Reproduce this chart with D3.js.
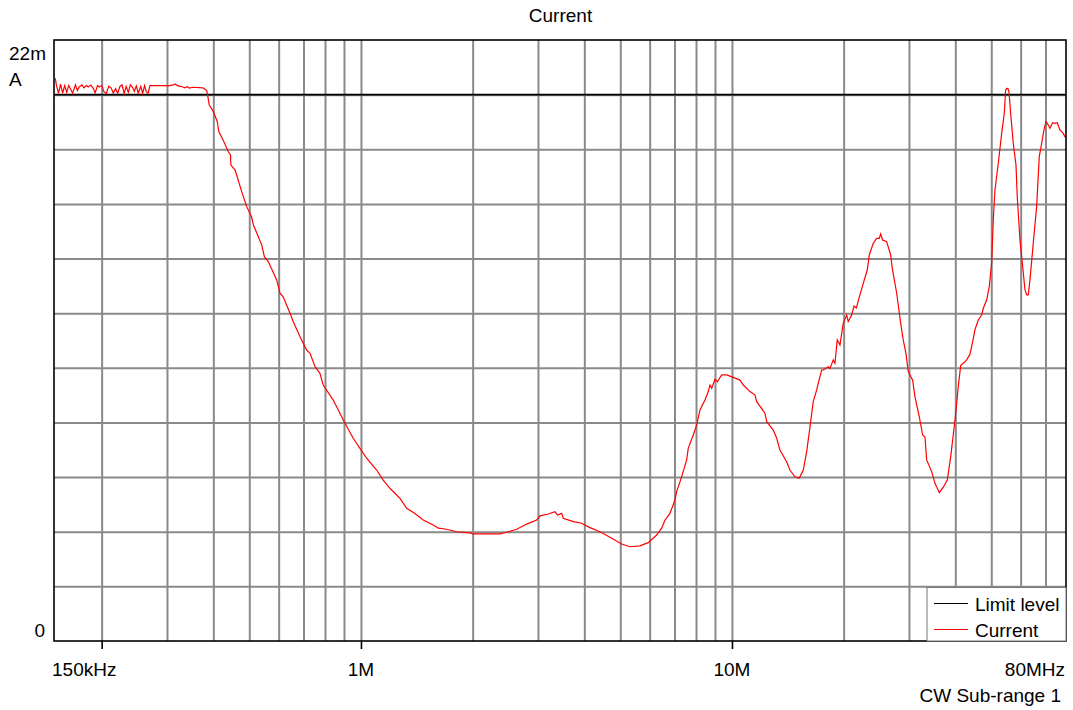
<!DOCTYPE html>
<html>
<head>
<meta charset="UTF-8">
<title>Current</title>
<script src="https://d3js.org/d3.v7.min.js"></script>
<style>
  body { margin: 0; background: #fff; }
  svg text { font-family: "Liberation Sans", Arial, sans-serif; font-size: 19px; fill: #000; }
</style>
</head>
<body>
<svg id="chart"></svg>
<script>
// frequency in MHz, current in mA
const freqMHz = [
  0.150, 0.151, 0.153, 0.155, 0.157, 0.159, 0.161, 0.163, 0.165, 0.167,
  0.170, 0.172, 0.174, 0.177, 0.179, 0.182, 0.184, 0.187, 0.190, 0.192,
  0.195, 0.197, 0.200, 0.203, 0.206, 0.209, 0.212, 0.215, 0.218, 0.221,
  0.224, 0.227, 0.230, 0.233, 0.236, 0.239, 0.242, 0.245, 0.248, 0.251,
  0.255, 0.258, 0.261, 0.264, 0.267, 0.270, 0.275, 0.290, 0.305, 0.312,
  0.316, 0.320, 0.325, 0.330, 0.335, 0.340, 0.345, 0.352, 0.375, 0.380,
  0.384, 0.386, 0.390, 0.400, 0.410, 0.414, 0.425, 0.439, 0.445, 0.446,
  0.458, 0.477, 0.492, 0.507, 0.513, 0.540, 0.549, 0.563, 0.593, 0.605,
  0.617, 0.644, 0.657, 0.685, 0.714, 0.729, 0.752, 0.775, 0.791, 0.842,
  0.896, 0.953, 0.994, 1.036, 1.102, 1.148, 1.197, 1.274, 1.328, 1.398,
  1.472, 1.566, 1.616, 1.702, 1.811, 1.967, 2.008, 2.370, 2.470, 2.629,
  2.797, 2.975, 3.038, 3.198, 3.334, 3.390, 3.475, 3.510, 3.735, 3.935,
  4.143, 4.409, 4.691, 5.043, 5.310, 5.649, 5.948, 6.266, 6.464, 6.597,
  6.805, 7.021, 7.096, 7.317, 7.549, 7.623, 7.865, 8.034, 8.199, 8.458,
  8.634, 8.725, 8.82, 9.00, 9.13, 9.38, 9.676, 10.08, 10.51, 10.73,
  11.18, 11.53, 11.66, 12.27, 12.41, 12.92, 13.20, 13.47, 14.04, 14.33,
  14.78, 15.18, 15.57, 15.90, 16.23, 16.56, 16.92, 17.08, 17.45, 17.63,
  18.18, 18.37, 18.75, 18.95, 19.22, 19.55, 19.95, 20.38, 20.58, 21.02,
  21.33, 21.65, 21.99, 22.59, 23.16, 23.45, 24.04, 24.55, 24.95, 25.17,
  25.48, 26.12, 26.78, 27.05, 27.80, 28.50, 28.95, 29.44, 29.87, 30.69,
  31.14, 31.98, 32.66, 33.13, 33.48, 34.54, 35.26, 36.22, 37.12, 38.06,
  38.87, 39.92, 40.74, 41.35, 42.46, 42.92, 43.81, 44.55, 45.19, 46.12,
  47.10, 47.58, 48.59, 49.38, 50.12, 50.62, 51.16, 52.22, 53.33, 54.20,
  54.67, 55.01, 55.45, 55.80, 56.39, 57.31, 58.29, 58.75, 59.74, 60.76,
  61.64, 62.28, 62.91, 63.57, 64.88, 66.27, 67.35, 68.37, 69.34, 70.21,
  70.78, 71.96, 73.18, 74.24, 75.30, 76.58, 78.17, 79.00, 80.00
];
const currentMA = [
  20.60, 20.35, 20.05, 20.38, 20.06, 20.33, 20.08, 20.34, 20.20, 20.05,
  20.36, 20.15, 20.28, 20.36, 20.25, 20.33, 20.28, 20.35, 20.22, 20.06,
  20.33, 20.28, 20.34, 20.10, 20.05, 20.31, 20.25, 20.06, 20.22, 20.05,
  20.30, 20.36, 20.04, 20.30, 20.08, 20.36, 20.28, 20.12, 20.32, 20.06,
  20.30, 20.05, 20.33, 20.10, 20.06, 20.34, 20.33, 20.33, 20.33, 20.36,
  20.39, 20.33, 20.30, 20.29, 20.25, 20.29, 20.24, 20.27, 20.25, 20.20,
  20.14, 19.99, 19.62, 19.38, 19.01, 18.64, 18.34, 17.91, 17.79, 17.42,
  17.24, 16.45, 15.90, 15.53, 15.23, 14.50, 14.07, 13.88, 13.21, 12.73,
  12.60, 12.00, 11.69, 11.14, 10.65, 10.53, 10.04, 9.80, 9.37, 8.82,
  8.09, 7.42, 7.05, 6.69, 6.26, 5.89, 5.59, 5.22, 4.86, 4.67,
  4.43, 4.25, 4.13, 4.09, 4.00, 3.96, 3.92, 3.92, 3.98, 4.09,
  4.28, 4.43, 4.58, 4.65, 4.73, 4.61, 4.67, 4.49, 4.37, 4.31,
  4.15, 4.00, 3.80, 3.55, 3.45, 3.48, 3.60, 3.88, 4.13, 4.42,
  4.67, 5.16, 5.47, 6.01, 6.63, 7.05, 7.54, 7.91, 8.46, 8.82,
  9.13, 9.37, 9.25, 9.58, 9.49, 9.74, 9.74, 9.65, 9.55, 9.37,
  9.13, 9.01, 8.76, 8.34, 8.03, 7.72, 7.42, 6.99, 6.56, 6.26,
  6.01, 5.96, 6.26, 6.93, 7.84, 8.76, 9.19, 9.43, 9.92, 9.92,
  10.04, 9.98, 10.29, 10.17, 11.02, 10.84, 11.63, 11.93, 11.69, 11.93,
  12.26, 12.19, 12.54, 13.09, 13.58, 14.13, 14.56, 14.74, 14.74, 14.90,
  14.68, 14.62, 14.13, 13.64, 12.73, 11.63, 11.02, 10.53, 9.86, 9.55,
  8.94, 8.21, 7.54, 7.47, 6.63, 6.20, 5.77, 5.43, 5.63, 5.89,
  6.75, 8.09, 9.31, 10.08, 10.22, 10.29, 10.50, 10.96, 11.40, 11.75,
  11.93, 12.18, 12.48, 12.97, 13.83, 15.41, 16.51, 17.49, 18.58, 19.32,
  20.17, 20.23, 20.22, 20.11, 19.32, 18.22, 17.42, 16.26, 14.68, 13.70,
  12.85, 12.67, 12.67, 13.21, 14.56, 15.90, 17.73, 18.22, 18.71, 19.01,
  18.95, 18.77, 18.97, 18.95, 18.97, 18.71, 18.58, 18.46, 18.48
];
const limitLevel = 20;
const gridFreqs = [0.2, 0.3, 0.4, 0.5, 0.6, 0.7, 0.8, 0.9, 1,
                   2, 3, 4, 5, 6, 7, 8, 9, 10,
                   20, 30, 40, 50, 60, 70];
const gridCurrents = [2, 4, 6, 8, 10, 12, 14, 16, 18, 20];
const tickFreqs = [0.2, 1, 10];
const xLabels = [{ f: 1, text: "1M" }, { f: 10, text: "10M" }];

const width = 1073, height = 710;
const plot = { left: 54, top: 40, right: 1066, bottom: 641 };

const svg = d3.select("#chart").attr("width", width).attr("height", height);

const x = d3.scaleLog().domain([0.15, 80]).range([55.3, 1067]);
const y = d3.scaleLinear().domain([0, 22]).range([plot.bottom, plot.top]);

svg.append("defs").append("clipPath").attr("id", "clip")
  .append("rect")
  .attr("x", plot.left).attr("y", plot.top)
  .attr("width", plot.right - plot.left).attr("height", plot.bottom - plot.top);

// grid
const gx = svg.append("g")
  .attr("transform", `translate(0,${plot.bottom})`)
  .call(d3.axisBottom(x).tickValues(gridFreqs).tickSize(-(plot.bottom - plot.top)).tickFormat(""));
gx.select(".domain").remove();
gx.selectAll("line").attr("stroke", "#8a8a8a").attr("stroke-width", 2);

const gy = svg.append("g")
  .attr("transform", `translate(${plot.left},0)`)
  .call(d3.axisLeft(y).tickValues(gridCurrents).tickSize(-(plot.right - plot.left)).tickFormat(""));
gy.select(".domain").remove();
gy.selectAll("line").attr("stroke", "#8a8a8a").attr("stroke-width", 2);

// limit line
svg.append("line")
  .attr("x1", plot.left).attr("x2", plot.right)
  .attr("y1", y(limitLevel)).attr("y2", y(limitLevel))
  .attr("stroke", "#000").attr("stroke-width", 1.6);

// current trace
const data = freqMHz.map((f, i) => ({ f: f, v: currentMA[i] }));
svg.append("path")
  .datum(data)
  .attr("clip-path", "url(#clip)")
  .attr("fill", "none")
  .attr("stroke", "#ff0000")
  .attr("stroke-width", 1.2)
  .attr("d", d3.line().x(d => x(d.f)).y(d => y(d.v)));

// frame
svg.append("rect")
  .attr("x", plot.left).attr("y", plot.top)
  .attr("width", plot.right - plot.left).attr("height", plot.bottom - plot.top)
  .attr("fill", "none").attr("stroke", "#000").attr("stroke-width", 1.6);

// ticks under the axis
const gt = svg.append("g")
  .attr("transform", `translate(0,${plot.bottom})`)
  .call(d3.axisBottom(x).tickValues(tickFreqs).tickSize(8).tickFormat(""));
gt.select(".domain").remove();
gt.selectAll("line").attr("stroke", "#000").attr("stroke-width", 1.6);

// labels
svg.append("text").attr("x", 560.5).attr("y", 22).attr("text-anchor", "middle").text("Current");
svg.append("text").attr("x", 9).attr("y", 60).text("22m");
svg.append("text").attr("x", 9).attr("y", 86).text("A");
svg.append("text").attr("x", 45).attr("y", 637).attr("text-anchor", "end").text("0");

svg.append("text").attr("x", 52).attr("y", 676).text("150kHz");
svg.selectAll(".xlab").data(xLabels).enter().append("text")
  .attr("class", "xlab")
  .attr("x", d => x(d.f)).attr("y", 676)
  .attr("text-anchor", "middle")
  .text(d => d.text);
svg.append("text").attr("x", 1065).attr("y", 676).attr("text-anchor", "end").text("80MHz");
svg.append("text").attr("x", 1061).attr("y", 702).attr("text-anchor", "end").text("CW Sub-range 1");

// legend
const lg = svg.append("g");
lg.append("rect")
  .attr("x", 927).attr("y", 587.5).attr("width", 139).attr("height", 53.5)
  .attr("fill", "#fff").attr("stroke", "#777").attr("stroke-width", 1);
const legendItems = [
  { name: "Limit level", color: "#000", y: 603.5 },
  { name: "Current", color: "#ff0000", y: 629.5 }
];
legendItems.forEach(d => {
  lg.append("line").attr("x1", 934).attr("x2", 968).attr("y1", d.y).attr("y2", d.y)
    .attr("stroke", d.color).attr("stroke-width", 1.2);
  lg.append("text").attr("x", 975).attr("y", d.y + 7).text(d.name);
});
</script>
</body>
</html>
